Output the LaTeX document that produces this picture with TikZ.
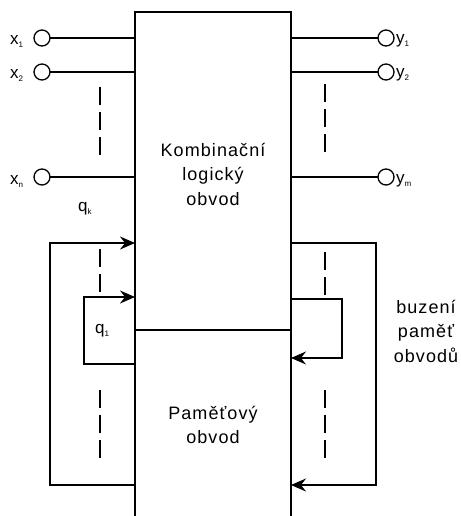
\documentclass[tikz,border=0pt]{standalone}
\usepackage{fontspec}
\setmainfont{Liberation Sans}[LetterSpace=6]
\usetikzlibrary{arrows.meta}
\tikzset{
  ln/.style={line width=1.3pt, line cap=rect},
  arr/.style={ln, -{Stealth[length=15pt,width=13pt,inset=5pt]}},
  term/.style={circle, draw, line width=1.3pt, minimum size=16pt, inner sep=0pt},
  vdash/.style={line width=1.3pt, dash pattern=on 18pt off 7pt},
  lbl/.style={inner sep=0pt, anchor=base west, font=\fontsize{17}{20}\selectfont},
  big/.style={align=center, inner sep=0pt, font=\fontsize{18}{24.5}\selectfont}
}
\newcommand{\sbs}[1]{\raisebox{-3pt}{\fontsize{8}{8}\selectfont #1}}
\begin{document}
\begin{tikzpicture}[x=1pt,y=-1pt]
\useasboundingbox (0,0) rectangle (460,516);
% block corners
\coordinate (TL) at (135,12);
\coordinate (TR) at (291,12);
\coordinate (BL) at (135,530);
\coordinate (BR) at (291,530);
\coordinate (DL) at (135,330);
\coordinate (DR) at (291,330);
\draw[ln] (BL) -- (TL) -- (TR) -- (BR);
\draw[ln] (DL) -- (DR);
% inputs
\node[term] (x1) at (42,38) {};
\node[term] (x2) at (42,72) {};
\node[term] (xn) at (42,177) {};
\draw[ln] (x1) -- (x1 -| TL);
\draw[ln] (x2) -- (x2 -| TL);
\draw[ln] (xn) -- (xn -| TL);
\node[lbl] (lx1) at (10,45) {x\sbs{1}};
\node[lbl] (lx2) at (10,79) {x\sbs{2}};
\node[lbl] (lxn) at (10,184) {x\sbs{n}};
% outputs
\node[term] (y1) at (386,38) {};
\node[term] (y2) at (386,72) {};
\node[term] (ym) at (386,177) {};
\draw[ln] (y1 -| TR) -- (y1);
\draw[ln] (y2 -| TR) -- (y2);
\draw[ln] (ym -| TR) -- (ym);
\node[lbl] (ly1) at (396,44) {y\sbs{1}};
\node[lbl] (ly2) at (396,78) {y\sbs{2}};
\node[lbl] (lym) at (396,183) {y\sbs{m}};
% dashes
\draw[vdash] (100,87) -- (100,155);
\draw[vdash] (325,84) -- (325,152);
\draw[vdash] (100,249) -- (100,292);
\draw[vdash] (325,252) -- (325,295);
\draw[vdash] (100,390) -- (100,460);
\draw[vdash] (325,390) -- (325,460);
% left feedback
\coordinate (qkA) at (135,485);
\coordinate (qkB) at (50,485);
\coordinate (qkC) at (50,243);
\coordinate (qkD) at (135,243);
\draw[arr] (qkA) -- (qkB) -- (qkC) -- (qkD);
\coordinate (q1A) at (135,364);
\coordinate (q1B) at (84,364);
\coordinate (q1C) at (84,297);
\coordinate (q1D) at (135,297);
\draw[arr] (q1A) -- (q1B) -- (q1C) -- (q1D);
\node[lbl] (lqk) at (78,211) {q\sbs{k}};
\node[lbl] (lq1) at (95,333) {q\sbs{1}};
% right feedback
\coordinate (zkA) at (291,243);
\coordinate (zkB) at (376,243);
\coordinate (zkC) at (376,485);
\coordinate (zkD) at (291,485);
\draw[arr] (zkA) -- (zkB) -- (zkC) -- (zkD);
\coordinate (z1A) at (291,299);
\coordinate (z1B) at (342,299);
\coordinate (z1C) at (342,358);
\coordinate (z1D) at (291,358);
\draw[arr] (z1A) -- (z1B) -- (z1C) -- (z1D);
% texts
\node[big] (klo) at (213,174) {Kombinační\\logický\\obvod};
\node[big] (po) at (213,425) {Paměťový\\obvod};
\node[big] (bpo) at (426,331) {buzení\\paměť\\obvodů};
\end{tikzpicture}
\end{document}
